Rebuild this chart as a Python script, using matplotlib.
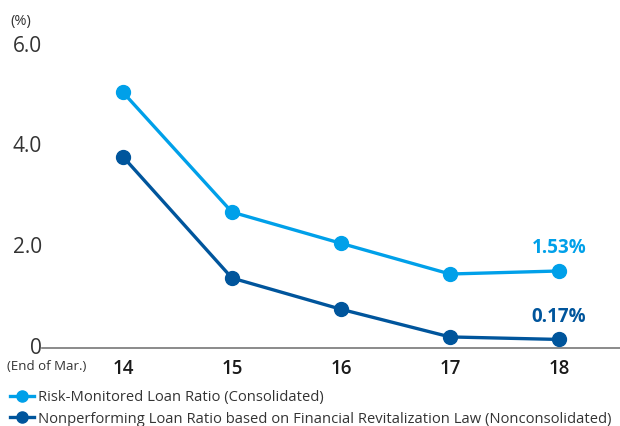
import matplotlib
matplotlib.use("Agg")
import matplotlib.pyplot as plt
from matplotlib.lines import Line2D

plt.rcParams['font.family'] = ['Open Sans', 'DejaVu Sans']

years = ["14", "15", "16", "17", "18"]
risk_monitored = [5.08, 2.70, 2.08, 1.47, 1.53]
nonperforming = [3.80, 1.39, 0.77, 0.22, 0.17]
yticks = [0, 2.0, 4.0, 6.0]
ytick_labels = ["0", "2.0", "4.0", "6.0"]
series_names = ["Risk-Monitored Loan Ratio (Consolidated)",
                "Nonperforming Loan Ratio based on Financial Revitalization Law (Nonconsolidated)"]
end_labels = ["1.53%", "0.17%"]

light = "#00a0e9"
dark = "#00559c"

W, H = 620, 426
fig = plt.figure(figsize=(W / 100, H / 100), dpi=100)
ax = fig.add_axes([42 / W, 78 / H, (620 - 42) / W, (348 - 46) / H])

x = list(range(len(years)))
ax.plot(x, risk_monitored, color=light, lw=2.4, marker="o", ms=10, clip_on=False, zorder=3)
ax.plot(x, nonperforming, color=dark, lw=2.4, marker="o", ms=10, clip_on=False, zorder=3)

ax.set_xlim(-0.743, 4.56)
ax.set_ylim(0, 6.0)
for s in ["top", "right", "left"]:
    ax.spines[s].set_visible(False)
ax.spines["bottom"].set_color("#777777")
ax.spines["bottom"].set_linewidth(1.2)
ax.tick_params(axis="both", length=0)
ax.set_xticks(x)
ax.set_xticklabels(years, fontsize=13.5, color="#1a1a1a", fontweight="semibold")
ax.tick_params(axis="x", pad=8)
ax.set_yticks(yticks)
ax.set_yticklabels([])
for v, lab in zip(yticks, ytick_labels):
    ax.text(-0.745, v, lab, ha="right", va="center", fontsize=15, color="#333333")

fig.text(10 / W, 1 - 22 / H, "(%)", fontsize=10.5, color="#333333", va="center", ha="left")
fig.text(7 / W, 1 - 367 / H, "(End of Mar.)", fontsize=9.5, color="#333333", va="center", ha="left")

ax.text(4, risk_monitored[-1] + 0.25, end_labels[0], ha="center", va="bottom",
        fontsize=13.5, fontweight="bold", color=light)
ax.text(4, nonperforming[-1] + 0.25, end_labels[1], ha="center", va="bottom",
        fontsize=13.5, fontweight="bold", color=dark)

handles = [Line2D([0], [0], color=light, lw=2.4, marker="o", ms=8),
           Line2D([0], [0], color=dark, lw=2.4, marker="o", ms=8)]
fig.legend(handles, series_names, loc="upper left", bbox_to_anchor=(10 / W, 1 - 390 / H),
           frameon=False, fontsize=10.6, handlelength=1.6, handletextpad=0.3,
           labelspacing=0.45, borderaxespad=0, borderpad=0, labelcolor="#333333")

fig.savefig("out.png", dpi=100)
